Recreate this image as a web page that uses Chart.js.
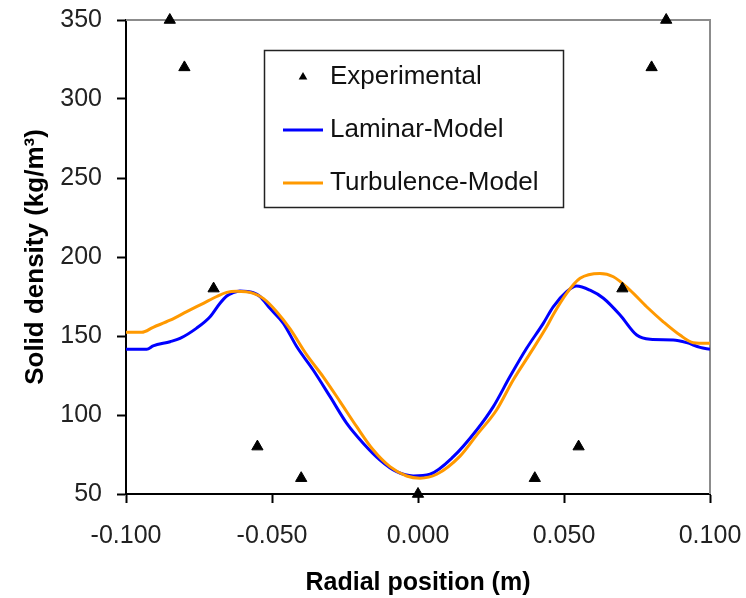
<!DOCTYPE html>
<html>
<head>
<meta charset="utf-8">
<script src="https://cdn.jsdelivr.net/npm/chart.js@4/dist/chart.umd.min.js"></script>
<style>
  html, body { margin: 0; padding: 0; background: #ffffff; }
  #wrap { width: 746px; height: 598px; }
</style>
</head>
<body>
<div id="wrap"><canvas id="c" width="746" height="598"></canvas></div>
<script>
// ---- Data ----
const expX = [-0.085, -0.080, -0.070, -0.055, -0.040, 0.000, 0.040, 0.055, 0.070, 0.080, 0.085];
const expY = [350, 320, 180, 80, 60, 50, 60, 80, 180, 320, 350];

const lamX = [-0.1000, -0.0929, -0.0907, -0.0849, -0.0815, -0.0758, -0.0712, -0.0678, -0.0655, -0.0633,
              -0.0610, -0.0564, -0.0541, -0.0507, -0.0461, -0.0415, -0.0359, -0.0301, -0.0244, -0.0187,
              -0.0130, -0.0073, -0.0016, 0.0041, 0.0121, 0.0201, 0.0258, 0.0315, 0.0372, 0.0429,
              0.0463, 0.0509, 0.0543, 0.0589, 0.0635, 0.0692, 0.0749, 0.0795, 0.0874, 0.0920,
              0.0966, 0.1000];
const lamY = [141.6, 141.6, 143.7, 146.4, 148.5, 155.0, 162.2, 170.7, 175.3, 177.4,
              178.5, 177.4, 175.0, 167.5, 158.0, 143.2, 128.5, 111.6, 94.7, 82.0,
              71.5, 64.1, 61.4, 62.5, 73.6, 90.5, 105.3, 124.3, 142.2, 158.0,
              168.5, 178.0, 181.6, 179.0, 173.9, 163.3, 150.6, 147.9, 147.5, 145.8,
              142.8, 141.6];

const turX = [-0.1000, -0.0946, -0.0907, -0.0849, -0.0792, -0.0735, -0.0689, -0.0655, -0.0621, -0.0564,
              -0.0530, -0.0484, -0.0438, -0.0381, -0.0324, -0.0267, -0.0210, -0.0153, -0.0096, -0.0039,
              0.0007, 0.0064, 0.0144, 0.0201, 0.0269, 0.0326, 0.0384, 0.0441, 0.0463, 0.0509,
              0.0555, 0.0623, 0.0669, 0.0726, 0.0783, 0.0840, 0.0897, 0.0943, 0.1000];
const turY = [152.3, 152.3, 155.5, 160.0, 165.4, 170.7, 175.0, 177.6, 178.3, 177.0,
              173.8, 165.4, 154.5, 138.0, 124.0, 108.5, 92.6, 77.8, 67.3, 61.4,
              60.0, 62.5, 74.0, 87.3, 103.2, 122.2, 139.0, 156.0, 163.5, 177.0,
              186.5, 189.6, 187.5, 179.0, 168.5, 159.0, 150.6, 145.8, 145.4];

const seriesNames = ['Experimental', 'Laminar-Model', 'Turbulence-Model'];
const xTicks = [-0.100, -0.050, 0.000, 0.050, 0.100];
const yTicks = [50, 100, 150, 200, 250, 300, 350];
const xTitle = 'Radial position (m)';
const yTitle = 'Solid density (kg/m³)';

const toPts = (xs, ys) => xs.map((x, i) => ({x: x, y: ys[i]}));

const FONT = "'Liberation Sans', Arial, sans-serif";

const framePlugin = {
  id: 'frame',
  beforeDatasetsDraw(chart) {
    const a = chart.chartArea, ctx = chart.ctx;
    ctx.save();
    ctx.strokeStyle = '#8c8c8c';
    ctx.lineWidth = 2;
    ctx.beginPath();
    ctx.moveTo(a.left, a.top);
    ctx.lineTo(a.right, a.top);
    ctx.lineTo(a.right, a.bottom);
    ctx.stroke();
    ctx.restore();
  }
};

const legendPlugin = {
  id: 'boxLegend',
  afterDraw(chart) {
    const ctx = chart.ctx;
    const ds = chart.data.datasets;
    ctx.save();
    ctx.fillStyle = '#ffffff';
    ctx.fillRect(264, 50, 299, 157);
    ctx.strokeStyle = '#222222';
    ctx.lineWidth = 1.5;
    ctx.strokeRect(264.5, 50.5, 299, 157);
    const rows = [77, 130, 183];
    ctx.font = '26px ' + FONT;
    ctx.textBaseline = 'middle';
    ctx.textAlign = 'left';
    ds.forEach((d, i) => {
      const y = rows[i];
      if (i === 0) {
        const cx = 303, cy = y, r = 5;
        ctx.fillStyle = '#000';
        ctx.beginPath();
        ctx.moveTo(cx, cy - r);
        ctx.lineTo(cx + r * 0.866, cy + r * 0.5);
        ctx.lineTo(cx - r * 0.866, cy + r * 0.5);
        ctx.closePath();
        ctx.fill();
      } else {
        ctx.strokeStyle = d.borderColor;
        ctx.lineWidth = 3;
        ctx.beginPath();
        ctx.moveTo(283, y);
        ctx.lineTo(323, y);
        ctx.stroke();
      }
      ctx.fillStyle = '#111';
      ctx.fillText(d.label, 330, y);
    });
    ctx.restore();
  }
};

function zeroPad(scale) {
  scale.paddingLeft = 0; scale.paddingRight = 0;
  scale.paddingTop = 0; scale.paddingBottom = 0;
}

new Chart(document.getElementById('c'), {
  type: 'scatter',
  data: {
    datasets: [
      {
        label: seriesNames[0],
        data: toPts(expX, expY),
        showLine: false,
        pointStyle: 'triangle',
        pointRadius: 6.5,
        pointBackgroundColor: '#000',
        pointBorderColor: '#000',
        pointBorderWidth: 1,
        clip: false,
        order: 0
      },
      {
        label: seriesNames[1],
        data: toPts(lamX, lamY),
        showLine: true,
        borderColor: '#0000ff',
        borderWidth: 3,
        pointRadius: 0,
        cubicInterpolationMode: 'monotone',
        order: 2
      },
      {
        label: seriesNames[2],
        data: toPts(turX, turY),
        showLine: true,
        borderColor: '#ff9900',
        borderWidth: 3,
        pointRadius: 0,
        cubicInterpolationMode: 'monotone',
        order: 1
      }
    ]
  },
  options: {
    responsive: false,
    animation: false,
    events: [],
    layout: { padding: { left: 0, right: 36, top: 20, bottom: 0 } },
    plugins: { legend: { display: false }, tooltip: { enabled: false } },
    scales: {
      x: {
        type: 'linear',
        min: -0.1, max: 0.1,
        afterBuildTicks(scale) { scale.ticks = xTicks.map(v => ({value: v})); },
        afterFit(scale) { scale.height = 104; zeroPad(scale); },
        grid: { drawOnChartArea: false, drawTicks: true, tickLength: 9, tickColor: '#000', tickWidth: 2 },
        border: { color: '#000', width: 2 },
        ticks: {
          color: '#222',
          font: { family: FONT, size: 25 },
          padding: 18,
          maxRotation: 0,
          callback: v => v.toFixed(3)
        },
        title: {
          display: true, text: xTitle, color: '#000',
          font: { family: FONT, size: 25, weight: 'bold' },
          padding: { top: 8, bottom: 0 }
        }
      },
      y: {
        type: 'linear',
        min: 50, max: 350,
        afterBuildTicks(scale) { scale.ticks = yTicks.map(v => ({value: v})); },
        afterFit(scale) { scale.width = 126; zeroPad(scale); },
        grid: { drawOnChartArea: false, drawTicks: true, tickLength: 9, tickColor: '#000', tickWidth: 2 },
        border: { color: '#000', width: 2 },
        ticks: {
          color: '#222',
          font: { family: FONT, size: 25 },
          padding: 15,
          callback: v => String(v)
        },
        title: {
          display: true, text: yTitle, color: '#000',
          font: { family: FONT, size: 26, weight: 'bold' },
          padding: { top: 20, bottom: 0 }
        }
      }
    }
  },
  plugins: [framePlugin, legendPlugin]
});
</script>
</body>
</html>
